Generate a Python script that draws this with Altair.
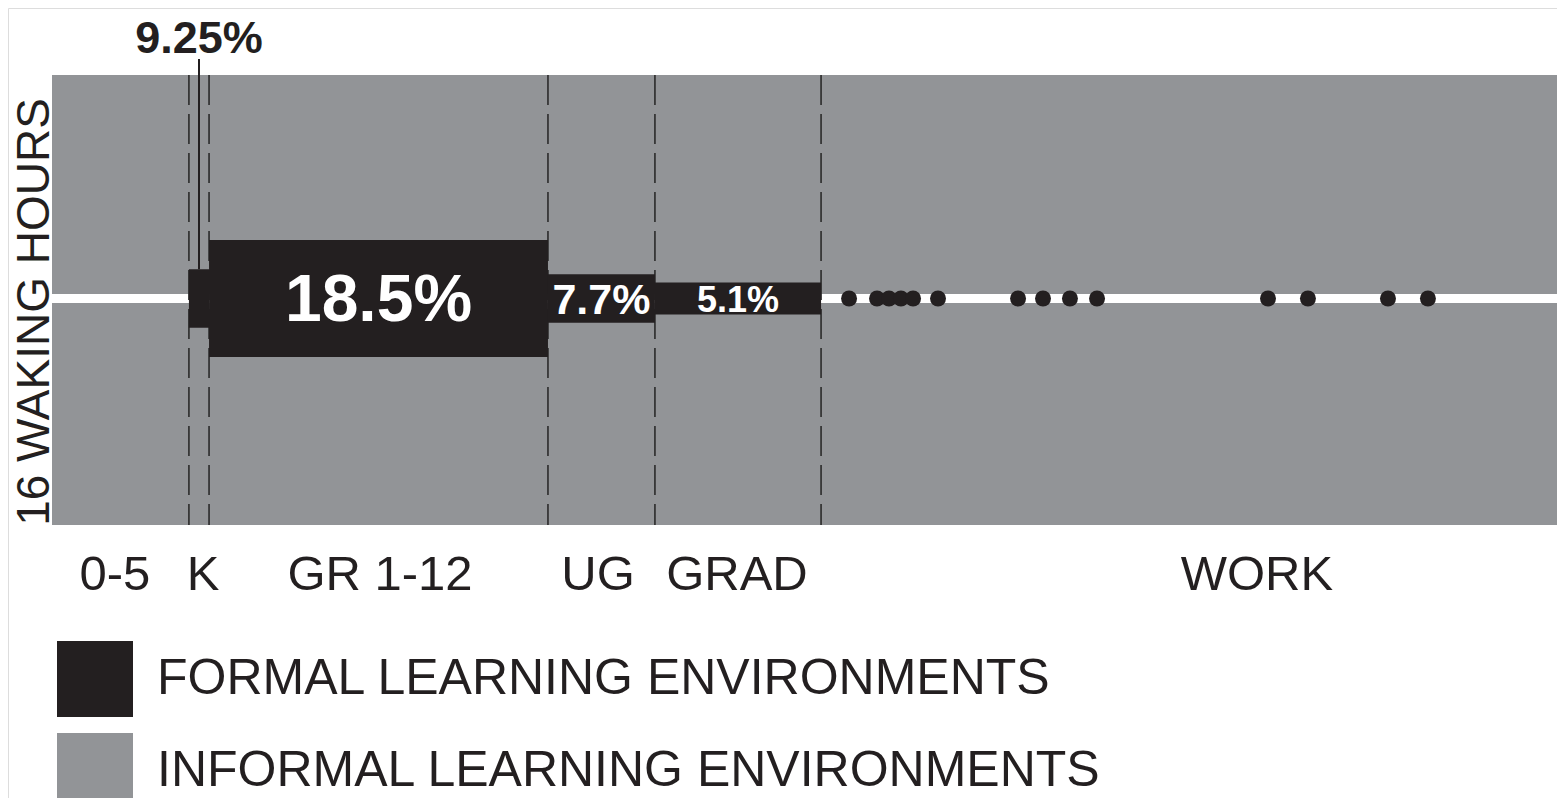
import altair as alt
import pandas as pd

# ---------------- data ----------------
stages = ["0-5", "K", "GR 1-12", "UG", "GRAD", "WORK"]
stage_start = [0.0, 9.05, 10.38, 32.78, 39.85, 50.83]
stage_end = [9.05, 10.38, 32.78, 39.85, 50.83, 100.0]
stage_label_pos = [4.16, 9.98, 21.68, 36.09, 45.27, 79.64]

formal_stages = ["K", "GR 1-12", "UG", "GRAD"]
formal_pct = [9.25, 18.5, 7.7, 5.1]
formal_labels = ["9.25%", "18.5%", "7.7%", "5.1%"]

work_dots = [52.68, 54.53, 55.32, 56.11, 56.91, 58.56, 63.85, 65.50,
             67.28, 69.07, 80.37, 83.01, 88.30, 90.94]

FORMAL = "FORMAL LEARNING ENVIRONMENTS"
INFORMAL = "INFORMAL LEARNING ENVIRONMENTS"
y_title = "16 WAKING HOURS"

# ---------------- styles ----------------
BLACK = "#231f20"
GREY = "#929497"
FONT = "Liberation Sans"
bar_label_font = {"GR 1-12": 66, "UG": 43, "GRAD": 36}

# ---------------- tables ----------------
stage_df = pd.DataFrame({"stage": stages, "start": stage_start, "end": stage_end,
                         "label_pos": stage_label_pos})
stage_df["center"] = (stage_df["start"] + stage_df["end"]) / 2

bars = stage_df[stage_df["stage"].isin(formal_stages)].copy().reset_index(drop=True)
bars["pct"] = formal_pct
bars["label"] = formal_labels
bars["top"] = bars["pct"] / 2
bars["bottom"] = -bars["pct"] / 2
bars["env"] = FORMAL
bars["zero"] = 0.0
bars["fs"] = bars["stage"].map(bar_label_font).fillna(0)

bg = pd.DataFrame({"start": [0.0], "end": [100.0], "env": [INFORMAL], "zero": [0.0]})
dots = pd.DataFrame({"x": work_dots, "zero": [0.0] * len(work_dots)})
bounds = stage_df.iloc[:5][["end"]].rename(columns={"end": "x"})
ytitle_df = pd.DataFrame({"t": [y_title]})

xscale = alt.Scale(domain=[0, 100], range=[44, 1557], nice=False, zero=False)
yscale = alt.Scale(domain=[-50, 50], range=[606.5, -25.5], nice=False, zero=False)

def X(f):
    return alt.X(f, type="quantitative", scale=xscale, axis=None)

def Y(f):
    return alt.Y(f, type="quantitative", scale=yscale, axis=None)

color = alt.Color(
    "env:N",
    scale=alt.Scale(domain=[FORMAL, INFORMAL], range=[BLACK, GREY]),
    legend=alt.Legend(
        title=None, orient="none", legendX=49, legendY=633, direction="vertical",
        symbolType="square", symbolSize=5776, symbolStrokeWidth=0, symbolOpacity=1,
        labelFontSize=50, labelFont=FONT, labelColor=BLACK, labelOffset=24,
        rowPadding=16, padding=0, labelLimit=0,
    ),
)

# ---------------- layers ----------------
background = alt.Chart(bg).mark_rect().encode(
    x=X("start"), x2="end", y=alt.value(67), y2=alt.value(517), color=color
)

midline = alt.Chart(bg).mark_rule(color="white", strokeWidth=9).encode(
    x=X("start"), x2="end", y=Y("zero")
)

dashes = alt.Chart(bounds).mark_rule(color="#2b2b2b", strokeWidth=1.6, strokeDash=[30, 9]).encode(
    x=X("x"), y=alt.value(67), y2=alt.value(517)
)

bar_layer = alt.Chart(bars).mark_rect().encode(
    x=X("start"), x2="end", y=Y("bottom"), y2="top", color=color
)

dot_layer = alt.Chart(dots).mark_circle(color=BLACK, opacity=1, size=255).encode(
    x=X("x"), y=Y("zero")
)

k_only = alt.Chart(bars).transform_filter(alt.datum.stage == "K")

leader = k_only.mark_rule(color=BLACK, strokeWidth=2).encode(
    x=X("center"), y=Y("top"), y2=alt.value(51)
)

k_label = k_only.mark_text(font=FONT, fontWeight="bold", fontSize=45, color=BLACK,
                           baseline="alphabetic", align="center").encode(
    x=X("center"), y=alt.value(45), text="label:N"
)

in_bar = alt.Chart(bars).transform_filter(alt.datum.stage != "K").mark_text(
    font=FONT, fontWeight="bold", color="white", baseline="middle", align="center", dy=2
).encode(
    x=X("center"), y=Y("zero"), text="label:N",
    size=alt.Size("fs:Q", scale=None, legend=None),
)

stage_text = alt.Chart(stage_df).mark_text(
    font=FONT, fontSize=49, color=BLACK, baseline="middle", align="center"
).encode(x=X("label_pos"), y=alt.value(567), text="stage:N")

ytitle = alt.Chart(ytitle_df).mark_text(
    font=FONT, fontSize=46, color=BLACK, baseline="middle", align="center", angle=270
).encode(x=alt.value(27), y=alt.value(304), text="t:N")

chart = alt.layer(
    background, midline, dashes, bar_layer, dot_layer, leader, k_label, in_bar, stage_text, ytitle
).properties(
    width=1549, height=790, padding=0, autosize=alt.AutoSizeParams(type="none")
).configure_view(stroke=None).configure(background="white")

chart.save("out.html", embed_options={"renderer": "svg", "actions": False})
